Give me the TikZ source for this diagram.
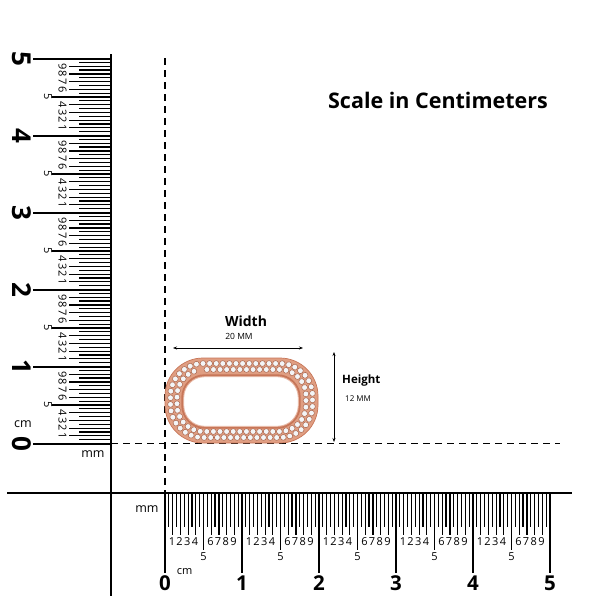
\documentclass[tikz,border=0pt]{standalone}
\usepackage{fontspec}
\setmainfont{Open Sans}
\usetikzlibrary{decorations.markings,arrows.meta}
\definecolor{rosegold}{HTML}{E09E82}
\definecolor{rosedark}{HTML}{C77658}
\definecolor{stonefill}{HTML}{F3F5F7}
\newcommand\mystad[5]{(#1+#5,#2) -- (#3-#5,#2) arc[start angle=270,end angle=360,radius=#5] -- (#3,#4-#5) arc[start angle=0,end angle=90,radius=#5] -- (#1+#5,#4) arc[start angle=90,end angle=180,radius=#5] -- (#1,#2+#5) arc[start angle=180,end angle=270,radius=#5] -- cycle}
\begin{document}
\begin{tikzpicture}[x=1pt,y=-1pt,
  tickline/.style={line width=1.2pt},
  cmtick/.style={line width=2pt},
  spine/.style={line width=2pt},
  guide/.style={line width=1.4pt,dash pattern=on 7pt off 5pt},
  vdig/.style={font=\fontsize{11}{11}\selectfont, rotate=-90, inner sep=0pt},
  hdig/.style={font=\fontsize{11}{11}\selectfont, inner sep=0pt},
  vbig/.style={font=\fontsize{26}{26}\selectfont\bfseries, rotate=-90, inner sep=0pt},
  hbig/.style={font=\fontsize{20.5}{20.5}\selectfont\bfseries, inner sep=0pt},
  unitlbl/.style={font=\fontsize{12.5}{12.5}\selectfont, inner sep=0pt},
  stoneA/.style={fill=stonefill, draw=rosedark!85!black, line width=0.5pt},
  dimarrow/.style={line width=0.8pt, {Stealth[length=4pt,width=3pt]}-{Stealth[length=4pt,width=3pt]}},
]
\useasboundingbox (0,0) rectangle (600,600);
\fill[white] (0,0) rectangle (600,600);

% guide dashed lines
\coordinate (gvt) at (165,58);
\coordinate (gvb) at (165,492);
\coordinate (ghl) at (111,443.5);
\coordinate (ghr) at (560,443.5);
\draw[guide] (gvt) -- (gvb);
\draw[guide] (ghl) -- (ghr);

% vertical ruler
\coordinate (vs1) at (111,54);
\coordinate (vs2) at (111,596);
\draw[spine] (vs1) -- (vs2);
\foreach \i in {0,...,100}{
  \pgfmathtruncatemacro{\m}{mod(\i,20)}
  \pgfmathsetmacro{\yy}{443.5-3.85*\i}
  \ifnum\m=0
    \draw[cmtick] (33,\yy) -- (111,\yy);
  \else\ifnum\m=10
    \draw[tickline] (52,\yy) -- (111,\yy);
    \node[vdig] (vf\i) at (48,\yy) {5};
  \else\ifodd\m
    \draw[tickline] (79,\yy) -- (111,\yy);
  \else
    \pgfmathtruncatemacro{\d}{\m/2}
    \draw[tickline] (69,\yy) -- (111,\yy);
    \node[vdig] (vd\i) at (62.5,\yy) {\d};
  \fi\fi\fi
}
\foreach \c in {0,...,5}{
  \pgfmathsetmacro{\yy}{443.5-77*\c}
  \node[vbig] (vb\c) at (22,\yy) {\c};
}
\node[unitlbl] (vcm) at (23,424) {cm};
\node[unitlbl] (vmm) at (93,454) {mm};

% horizontal ruler
\coordinate (hs1) at (7,492.5);
\coordinate (hs2) at (572,492.5);
\draw[spine] (hs1) -- (hs2);
\foreach \i in {0,...,100}{
  \pgfmathtruncatemacro{\m}{mod(\i,20)}
  \pgfmathsetmacro{\xx}{165+3.85*\i}
  \ifnum\m=0
    \draw[cmtick] (\xx,492.5) -- (\xx,573);
  \else\ifnum\m=10
    \draw[tickline] (\xx,492.5) -- (\xx,550);
    \node[hdig] (hf\i) at (\xx,556.5) {5};
  \else\ifodd\m
    \draw[tickline] (\xx,492.5) -- (\xx,527);
  \else
    \pgfmathtruncatemacro{\d}{\m/2}
    \draw[tickline] (\xx,492.5) -- (\xx,535);
    \node[hdig] (hd\i) at (\xx-0.8,541.5) {\d};
  \fi\fi\fi
}
\foreach \c in {0,...,5}{
  \pgfmathsetmacro{\xx}{165+77*\c}
  \node[hbig] (hb\c) at (\xx,583.5) {\c};
}
\node[font=\fontsize{11}{11}\selectfont, inner sep=0pt] (hcm) at (184.5,571.5) {cm};
\node[unitlbl] (hmm) at (147,509) {mm};

% title
\node[font=\fontsize{21.5}{21.5}\selectfont\bfseries, inner sep=0pt] (title) at (438,100) {Scale in Centimeters};

% pendant
\fill[rosegold] \mystad{165}{358}{318}{443}{38};
\draw[rosedark, line width=0.7pt] \mystad{165}{358}{318}{443}{38};
\path[decorate, decoration={markings, mark=between positions 0 and 0.99 step 6.6pt with {\draw[stoneA] (0,0) circle (2.9pt);}}] \mystad{170.5}{363.5}{312.5}{437.5}{32.5};
\path[decorate, decoration={markings, mark=between positions 0.01 and 0.99 step 6.6pt with {\draw[stoneA] (0,0) circle (2.9pt);}}] \mystad{177}{369.5}{306}{431.5}{26.5};
\draw[rosedark, line width=2.4pt, fill=white] \mystad{182.5}{375.5}{299.5}{427.5}{22};
\draw[rosegold!70!white, line width=0.9pt] \mystad{183.7}{376.7}{298.3}{426.3}{20.8};

% dimensions
\coordinate (wl) at (173,348);
\coordinate (wr) at (303,348);
\draw[dimarrow] (wl) -- (wr);
\node[font=\fontsize{14}{14}\selectfont\bfseries, inner sep=0pt] (wlabel) at (246,321) {Width};
\node[font=\fontsize{8.5}{8.5}\selectfont, inner sep=0pt] (wval) at (239,336) {20 MM};
\coordinate (ht) at (334,352);
\coordinate (hb) at (334,442);
\draw[dimarrow] (ht) -- (hb);
\node[font=\fontsize{11.5}{11.5}\selectfont\bfseries, inner sep=0pt, anchor=west] (hlabel) at (342,381) {Height};
\node[font=\fontsize{8}{8}\selectfont, inner sep=0pt, anchor=west] (hval) at (345,399) {12 MM};
\end{tikzpicture}
\end{document}
